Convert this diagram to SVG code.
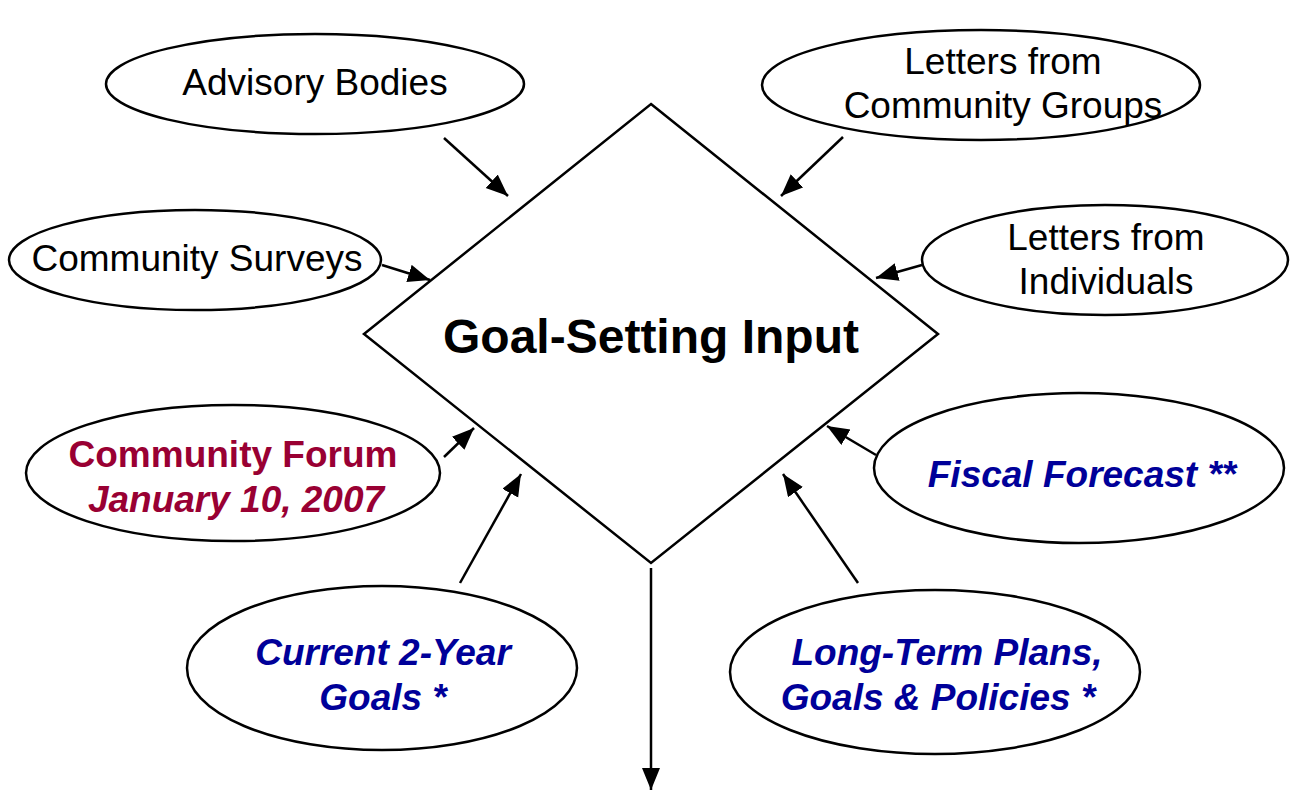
<svg xmlns="http://www.w3.org/2000/svg" width="1296" height="792" viewBox="0 0 1296 792">
<style>
.n{fill:#fff;stroke:#000;stroke-width:2.5}
.t{font-family:"Liberation Sans",Arial,sans-serif;font-size:37px;text-anchor:middle;fill:#000}
.m{fill:#990033;font-weight:bold}
.b{fill:#000099;font-weight:bold;font-style:italic}
.c{stroke:#000;stroke-width:2.5;fill:none;marker-end:url(#ah)}
</style>
<defs>
<marker id="ah" markerUnits="userSpaceOnUse" markerWidth="24" markerHeight="20" refX="22" refY="9" orient="auto">
<path d="M0,0 L22,9 L0,18 Z" fill="#000"/>
</marker>
</defs>
<rect width="1296" height="792" fill="#fff"/>
<g id="connectors">
<line class="c" x1="444" y1="138" x2="508" y2="196"/>
<line class="c" x1="843" y1="137" x2="781" y2="196"/>
<line class="c" x1="382" y1="265" x2="430" y2="280"/>
<line class="c" x1="922" y1="265" x2="876" y2="278"/>
<line class="c" x1="444" y1="457" x2="474" y2="428"/>
<line class="c" x1="876" y1="455" x2="827" y2="426"/>
<line class="c" x1="460" y1="583" x2="521" y2="474"/>
<line class="c" x1="858" y1="583" x2="783" y2="474"/>
<line class="c" x1="651" y1="568" x2="651" y2="790"/>
</g>
<g id="goal">
<polygon class="n" points="651,104 938,334 651,563 364,334"/>
<text class="t" x="651" y="353" style="font-size:48px;font-weight:bold">Goal-Setting Input</text>
</g>
<g id="advisory">
<ellipse class="n" cx="315" cy="84" rx="209" ry="50"/>
<text class="t" x="315" y="95">Advisory Bodies</text>
</g>
<g id="groups">
<ellipse class="n" cx="981" cy="85" rx="219" ry="55"/>
<text class="t" x="1003" y="74">Letters from</text>
<text class="t" x="1003" y="118">Community Groups</text>
</g>
<g id="surveys">
<ellipse class="n" cx="195" cy="260" rx="186" ry="50"/>
<text class="t" x="197" y="271">Community Surveys</text>
</g>
<g id="individuals">
<ellipse class="n" cx="1105" cy="260" rx="183" ry="55"/>
<text class="t" x="1106" y="250">Letters from</text>
<text class="t" x="1106" y="294">Individuals</text>
</g>
<g id="forum">
<ellipse class="n" cx="233" cy="473" rx="207" ry="68"/>
<text class="t m" x="233" y="467">Community Forum</text>
<text class="t m" x="236" y="512" style="font-style:italic">January 10, 2007</text>
</g>
<g id="fiscal">
<ellipse class="n" cx="1079" cy="468" rx="205" ry="75"/>
<text class="t b" x="1082" y="487">Fiscal Forecast **</text>
</g>
<g id="current">
<ellipse class="n" cx="382" cy="668" rx="195" ry="82"/>
<text class="t b" x="383" y="665">Current 2-Year</text>
<text class="t b" x="383" y="710">Goals *</text>
</g>
<g id="longterm">
<ellipse class="n" cx="935" cy="672" rx="205" ry="82"/>
<text class="t b" x="947" y="665">Long-Term Plans,</text>
<text class="t b" x="938" y="710">Goals &amp; Policies *</text>
</g>
</svg>
